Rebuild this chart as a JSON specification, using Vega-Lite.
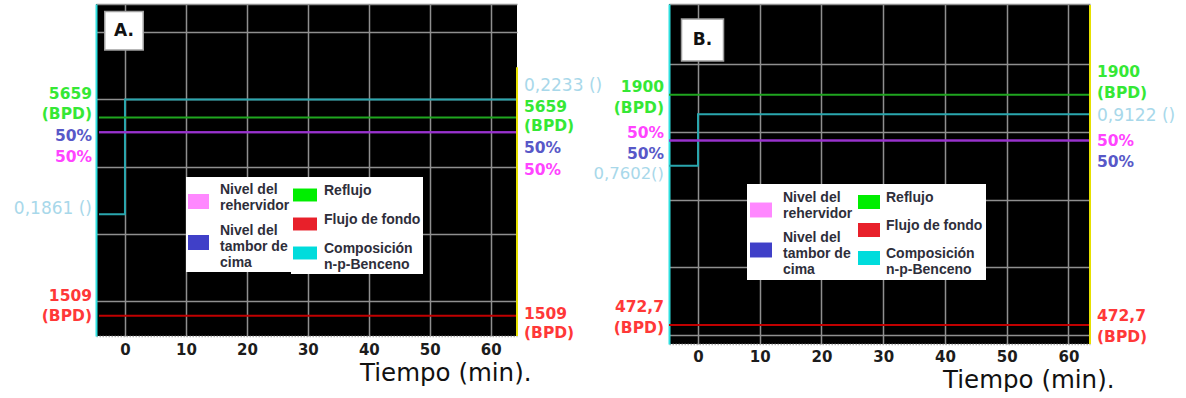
{
  "$schema": "https://vega.github.io/schema/vega-lite/v6.json",
  "padding": {"left": 13, "top": 4, "right": 0, "bottom": 0},
  "background": "white",
  "spacing": 152,
  "bounds": "flush",
  "config": {"view": {"fill": "black", "stroke": null}},
  "datasets": {
    "linesA": [
      {"series": "Composición n-p-Benceno", "t": -4.26, "v": 22.9},
      {"series": "Composición n-p-Benceno", "t": 0, "v": 40.0},
      {"series": "Composición n-p-Benceno", "t": 64.3, "v": 40.0},
      {"series": "Reflujo", "t": -4.26, "v": 37.3},
      {"series": "Reflujo", "t": 64.3, "v": 37.3},
      {"series": "Nivel del tambor de cima", "t": -4.26, "v": 35.1},
      {"series": "Nivel del tambor de cima", "t": 64.3, "v": 35.1},
      {"series": "Nivel del rehervidor", "t": -4.26, "v": 35.1},
      {"series": "Nivel del rehervidor", "t": 64.3, "v": 35.1},
      {"series": "Flujo de fondo", "t": -4.26, "v": 7.8},
      {"series": "Flujo de fondo", "t": 64.3, "v": 7.8}
    ],
    "linesB": [
      {"series": "Composición n-p-Benceno", "t": -4.7, "v": 35.0},
      {"series": "Composición n-p-Benceno", "t": 0, "v": 42.6},
      {"series": "Composición n-p-Benceno", "t": 63.5, "v": 42.6},
      {"series": "Reflujo", "t": -4.7, "v": 45.47},
      {"series": "Reflujo", "t": 63.5, "v": 45.47},
      {"series": "Nivel del tambor de cima", "t": -4.7, "v": 38.7},
      {"series": "Nivel del tambor de cima", "t": 63.5, "v": 38.7},
      {"series": "Nivel del rehervidor", "t": -4.7, "v": 38.7},
      {"series": "Nivel del rehervidor", "t": 63.5, "v": 38.7},
      {"series": "Flujo de fondo", "t": -4.7, "v": 11.48},
      {"series": "Flujo de fondo", "t": 63.5, "v": 11.48}
    ],
    "labelsA": [
      {"side": "L", "series": "Reflujo", "v": 40.78, "text": "5659\n(BPD)"},
      {"side": "L", "series": "Nivel del tambor de cima", "v": 34.54, "text": "50%"},
      {"side": "L", "series": "Nivel del rehervidor", "v": 31.41, "text": "50%"},
      {"side": "L", "series": "Composición n-p-Benceno", "v": 23.68, "text": "0,1861 ()"},
      {"side": "L", "series": "Flujo de fondo", "v": 10.74, "text": "1509\n(BPD)"},
      {"side": "R", "series": "Composición n-p-Benceno", "v": 41.97, "text": "0,2233 ()"},
      {"side": "R", "series": "Reflujo", "v": 38.85, "text": "5659\n(BPD)"},
      {"side": "R", "series": "Nivel del tambor de cima", "v": 32.75, "text": "50%"},
      {"side": "R", "series": "Nivel del rehervidor", "v": 29.48, "text": "50%"},
      {"side": "R", "series": "Flujo de fondo", "v": 8.07, "text": "1509\n(BPD)"}
    ],
    "labelsB": [
      {"side": "L", "series": "Reflujo", "v": 46.6, "text": "1900\n(BPD)"},
      {"side": "L", "series": "Nivel del rehervidor", "v": 39.82, "text": "50%"},
      {"side": "L", "series": "Nivel del tambor de cima", "v": 36.72, "text": "50%"},
      {"side": "L", "series": "Composición n-p-Benceno", "v": 33.76, "text": "0,7602()"},
      {"side": "L", "series": "Flujo de fondo", "v": 14.13, "text": "472,7\n(BPD)"},
      {"side": "R", "series": "Reflujo", "v": 48.82, "text": "1900\n(BPD)"},
      {"side": "R", "series": "Composición n-p-Benceno", "v": 42.32, "text": "0,9122 ()"},
      {"side": "R", "series": "Nivel del rehervidor", "v": 38.63, "text": "50%"},
      {"side": "R", "series": "Nivel del tambor de cima", "v": 35.54, "text": "50%"},
      {"side": "R", "series": "Flujo de fondo", "v": 12.8, "text": "472,7\n(BPD)"}
    ],
    "legendItems": [
      {"col": 1, "item": "Nivel del|rehervidor"},
      {"col": 1, "item": "Nivel del|tambor de|cima"},
      {"col": 2, "item": "Reflujo"},
      {"col": 2, "item": "Flujo de fondo"},
      {"col": 2, "item": "Composición|n-p-Benceno"}
    ],
    "panelTags": [
      {"panel": "A", "tag": "A.", "t": -0.16, "v": 50.22},
      {"panel": "B", "tag": "B.", "t": 0.73, "v": 53.54}
    ]
  },
  "hconcat": [
    {
      "width": 421,
      "height": 332,
      "view": {"fill": "black", "stroke": null},
      "resolve": {"scale": {"color": "independent"}, "legend": {"color": "independent"}},
      "layer": [
        {
          "data": {"name": "linesA"},
          "mark": {"type": "line", "interpolate": "step-after", "strokeWidth": 2},
          "encoding": {
            "x": {"field": "t", "type": "quantitative", "scale": {"domain": [-4.75, 64.3], "nice": false, "zero": false},
              "axis": {"values": [0, 10, 20, 30, 40, 50, 60], "grid": true, "gridColor": "#8f8f8f", "gridWidth": 1.5, "domain": true, "domainColor": "#b0b0b0", "domainDash": [1.5, 1.5], "domainWidth": 1.5, "ticks": false, "labelFlush": false, "labelOverlap": false, "labelFont": "DejaVu Sans", "labelFontSize": 15, "labelFontWeight": "bold", "labelColor": "#1c1c1c", "labelPadding": 6, "title": "Tiempo (min).", "titleFont": "DejaVu Sans", "titleFontSize": 24.5, "titleFontWeight": "normal", "titleColor": "#111111", "titleX": 435, "titleY": 37, "titleAlign": "right", "titleBaseline": "middle"}},
            "y": {"field": "v", "type": "quantitative", "scale": {"domain": [4.8, 54.2], "nice": false, "zero": false},
              "axis": {"values": [10, 20, 30, 40, 50, 54.2], "grid": true, "gridColor": "#8f8f8f", "gridWidth": 1.5, "labels": false, "ticks": false, "domain": true, "domainColor": "#2ee0e0", "domainWidth": 2, "title": null}},
            "color": {"field": "series", "type": "nominal", "legend": null,
              "scale": {"domain": ["Nivel del tambor de cima", "Nivel del rehervidor", "Reflujo", "Flujo de fondo", "Composición n-p-Benceno"], "range": ["#8a2fc8", "#9932cc", "#1fa51f", "#c00000", "#2aa6ae"]}}
          }
        },
        {
          "data": {"name": "labelsA"},
          "transform": [{"filter": "datum.side == 'L' && datum.series != 'Composición n-p-Benceno'"}],
          "mark": {"type": "text", "align": "right", "baseline": "middle", "dx": -4, "font": "DejaVu Sans", "fontSize": 15.5, "fontWeight": "bold", "lineBreak": "\n", "lineHeight": 20},
          "encoding": {
            "x": {"datum": -4.75, "type": "quantitative", "scale": {"domain": [-4.75, 64.3], "nice": false, "zero": false}},
            "y": {"field": "v", "type": "quantitative", "scale": {"domain": [4.8, 54.2], "nice": false, "zero": false}},
            "text": {"field": "text"},
            "color": {"field": "series", "type": "nominal", "legend": null,
              "scale": {"domain": ["Nivel del rehervidor", "Nivel del tambor de cima", "Reflujo", "Flujo de fondo"], "range": ["#ff44ff", "#5858c8", "#35e835", "#ff3838"]}}
          }
        },
        {
          "data": {"name": "labelsA"},
          "transform": [{"filter": "datum.side == 'R' && datum.series != 'Composición n-p-Benceno'"}],
          "mark": {"type": "text", "align": "left", "baseline": "middle", "dx": 7, "font": "DejaVu Sans", "fontSize": 15.5, "fontWeight": "bold", "lineBreak": "\n", "lineHeight": 19},
          "encoding": {
            "x": {"datum": 64.3, "type": "quantitative", "scale": {"domain": [-4.75, 64.3], "nice": false, "zero": false}},
            "y": {"field": "v", "type": "quantitative", "scale": {"domain": [4.8, 54.2], "nice": false, "zero": false}},
            "text": {"field": "text"},
            "color": {"field": "series", "type": "nominal", "legend": null,
              "scale": {"domain": ["Nivel del rehervidor", "Nivel del tambor de cima", "Reflujo", "Flujo de fondo"], "range": ["#ff44ff", "#5858c8", "#35e835", "#ff3838"]}}
          }
        },
        {
          "data": {"name": "labelsA"},
          "transform": [{"filter": "datum.side == 'L' && datum.series == 'Composición n-p-Benceno'"}],
          "mark": {"type": "text", "align": "right", "baseline": "middle", "dx": -4, "font": "DejaVu Sans", "fontSize": 17, "color": "#a8d8ea"},
          "encoding": {
            "x": {"datum": -4.75, "type": "quantitative", "scale": {"domain": [-4.75, 64.3], "nice": false, "zero": false}},
            "y": {"field": "v", "type": "quantitative", "scale": {"domain": [4.8, 54.2], "nice": false, "zero": false}},
            "text": {"field": "text"}
          }
        },
        {
          "data": {"name": "labelsA"},
          "transform": [{"filter": "datum.side == 'R' && datum.series == 'Composición n-p-Benceno'"}],
          "mark": {"type": "text", "align": "left", "baseline": "middle", "dx": 7, "font": "DejaVu Sans", "fontSize": 17, "color": "#a8d8ea"},
          "encoding": {
            "x": {"datum": 64.3, "type": "quantitative", "scale": {"domain": [-4.75, 64.3], "nice": false, "zero": false}},
            "y": {"field": "v", "type": "quantitative", "scale": {"domain": [4.8, 54.2], "nice": false, "zero": false}},
            "text": {"field": "text"}
          }
        },
        {
          "data": {"name": "legendItems"},
          "transform": [{"filter": "datum.col == 1"}],
          "mark": {"type": "square", "opacity": 0},
          "encoding": {
            "color": {"field": "item", "type": "nominal",
              "scale": {"domain": ["Nivel del|rehervidor", "Nivel del|tambor de|cima"], "range": ["#ff88ff", "#4040c8"]},
              "legend": {"title": null, "orient": "none", "legendX": 90, "legendY": 173, "direction": "vertical", "fillColor": "white", "strokeColor": null, "padding": 2, "rowPadding": 7, "symbolType": "M-1,0.429L1,0.429L1,1.857L-1,1.857Z", "symbolSize": 441, "symbolStrokeWidth": 0, "symbolOpacity": 1, "labelFont": "Liberation Sans", "labelFontSize": 14, "labelFontWeight": "bold", "labelColor": "#2e2e3a", "labelOffset": 11, "labelLimit": 200, "labelExpr": "split(datum.label, '|')"}}
          }
        },
        {
          "data": {"name": "legendItems"},
          "transform": [{"filter": "datum.col == 2"}],
          "mark": {"type": "square", "opacity": 0},
          "encoding": {
            "color": {"field": "item", "type": "nominal",
              "scale": {"domain": ["Reflujo", "Flujo de fondo", "Composición|n-p-Benceno"], "range": ["#00ee00", "#e8202a", "#00dcdc"]},
              "legend": {"title": null, "orient": "none", "legendX": 195, "legendY": 173, "direction": "vertical", "fillColor": "white", "strokeColor": null, "padding": 2, "rowPadding": 6, "symbolType": "M-1,-0.207L1,-0.207L1,0.873L-1,0.873Z", "symbolSize": 576, "symbolStrokeWidth": 0, "symbolOpacity": 1, "labelFont": "Liberation Sans", "labelFontSize": 14, "labelFontWeight": "bold", "labelColor": "#2e2e3a", "labelOffset": 7, "labelLimit": 200, "labelExpr": "split(datum.label, '|')"}}
          }
        },
        {
          "data": {"name": "panelTags"},
          "transform": [{"filter": "datum.panel == 'A'"}],
          "mark": {"type": "square", "size": 1480, "filled": true, "color": "white", "stroke": "#a0a0a0", "strokeWidth": 1.5, "opacity": 1},
          "encoding": {
            "x": {"field": "t", "type": "quantitative", "scale": {"domain": [-4.75, 64.3], "nice": false, "zero": false}},
            "y": {"field": "v", "type": "quantitative", "scale": {"domain": [4.8, 54.2], "nice": false, "zero": false}}
          }
        },
        {
          "data": {"name": "panelTags"},
          "transform": [{"filter": "datum.panel == 'A'"}],
          "mark": {"type": "text", "align": "center", "baseline": "middle", "font": "DejaVu Sans", "fontSize": 17, "fontWeight": "bold", "color": "#111111"},
          "encoding": {
            "x": {"field": "t", "type": "quantitative", "scale": {"domain": [-4.75, 64.3], "nice": false, "zero": false}},
            "y": {"field": "v", "type": "quantitative", "scale": {"domain": [4.8, 54.2], "nice": false, "zero": false}},
            "text": {"field": "tag"}
          }
        },
        {
          "data": {"values": [{}]},
          "mark": {"type": "rule", "color": "#e6e000", "strokeWidth": 2},
          "encoding": {
            "x": {"datum": 64.3, "type": "quantitative", "scale": {"domain": [-4.75, 64.3], "nice": false, "zero": false}},
            "y": {"datum": 44.8, "type": "quantitative", "scale": {"domain": [4.8, 54.2], "nice": false, "zero": false}},
            "y2": {"datum": 4.8}
          }
        }
      ]
    },
    {
      "width": 421,
      "height": 340,
      "view": {"fill": "black", "stroke": null},
      "resolve": {"scale": {"color": "independent"}, "legend": {"color": "independent"}},
      "layer": [
        {
          "data": {"name": "linesB"},
          "mark": {"type": "line", "interpolate": "step-after", "strokeWidth": 2},
          "encoding": {
            "x": {"field": "t", "type": "quantitative", "scale": {"domain": [-4.7, 63.5], "nice": false, "zero": false},
              "axis": {"values": [0, 10, 20, 30, 40, 50, 60], "grid": true, "gridColor": "#8f8f8f", "gridWidth": 1.5, "domain": true, "domainColor": "#b0b0b0", "domainDash": [1.5, 1.5], "domainWidth": 1.5, "ticks": false, "labelFlush": false, "labelOverlap": false, "labelFont": "DejaVu Sans", "labelFontSize": 15, "labelFontWeight": "bold", "labelColor": "#1c1c1c", "labelPadding": 5, "title": "Tiempo (min).", "titleFont": "DejaVu Sans", "titleFontSize": 24.5, "titleFontWeight": "normal", "titleColor": "#111111", "titleX": 445, "titleY": 36, "titleAlign": "right", "titleBaseline": "middle"}},
            "y": {"field": "v", "type": "quantitative", "scale": {"domain": [8.67, 58.86], "nice": false, "zero": false},
              "axis": {"values": [10, 20, 30, 40, 50, 58.86], "grid": true, "gridColor": "#8f8f8f", "gridWidth": 1.5, "labels": false, "ticks": false, "domain": true, "domainColor": "#2ee0e0", "domainWidth": 2, "title": null}},
            "color": {"field": "series", "type": "nominal", "legend": null,
              "scale": {"domain": ["Nivel del tambor de cima", "Nivel del rehervidor", "Reflujo", "Flujo de fondo", "Composición n-p-Benceno"], "range": ["#8a2fc8", "#9932cc", "#1fa51f", "#c00000", "#2aa6ae"]}}
          }
        },
        {
          "data": {"name": "labelsB"},
          "transform": [{"filter": "datum.side == 'L' && datum.series != 'Composición n-p-Benceno'"}],
          "mark": {"type": "text", "align": "right", "baseline": "middle", "dx": -5, "font": "DejaVu Sans", "fontSize": 15.5, "fontWeight": "bold", "lineBreak": "\n", "lineHeight": 21},
          "encoding": {
            "x": {"datum": -4.7, "type": "quantitative", "scale": {"domain": [-4.7, 63.5], "nice": false, "zero": false}},
            "y": {"field": "v", "type": "quantitative", "scale": {"domain": [8.67, 58.86], "nice": false, "zero": false}},
            "text": {"field": "text"},
            "color": {"field": "series", "type": "nominal", "legend": null,
              "scale": {"domain": ["Nivel del rehervidor", "Nivel del tambor de cima", "Reflujo", "Flujo de fondo"], "range": ["#ff44ff", "#5858c8", "#35e835", "#ff3838"]}}
          }
        },
        {
          "data": {"name": "labelsB"},
          "transform": [{"filter": "datum.side == 'R' && datum.series != 'Composición n-p-Benceno'"}],
          "mark": {"type": "text", "align": "left", "baseline": "middle", "dx": 7, "font": "DejaVu Sans", "fontSize": 15.5, "fontWeight": "bold", "lineBreak": "\n", "lineHeight": 21},
          "encoding": {
            "x": {"datum": 63.5, "type": "quantitative", "scale": {"domain": [-4.7, 63.5], "nice": false, "zero": false}},
            "y": {"field": "v", "type": "quantitative", "scale": {"domain": [8.67, 58.86], "nice": false, "zero": false}},
            "text": {"field": "text"},
            "color": {"field": "series", "type": "nominal", "legend": null,
              "scale": {"domain": ["Nivel del rehervidor", "Nivel del tambor de cima", "Reflujo", "Flujo de fondo"], "range": ["#ff44ff", "#5858c8", "#35e835", "#ff3838"]}}
          }
        },
        {
          "data": {"name": "labelsB"},
          "transform": [{"filter": "datum.side == 'L' && datum.series == 'Composición n-p-Benceno'"}],
          "mark": {"type": "text", "align": "right", "baseline": "middle", "dx": -5, "font": "DejaVu Sans", "fontSize": 16.5, "color": "#a8d8ea"},
          "encoding": {
            "x": {"datum": -4.7, "type": "quantitative", "scale": {"domain": [-4.7, 63.5], "nice": false, "zero": false}},
            "y": {"field": "v", "type": "quantitative", "scale": {"domain": [8.67, 58.86], "nice": false, "zero": false}},
            "text": {"field": "text"}
          }
        },
        {
          "data": {"name": "labelsB"},
          "transform": [{"filter": "datum.side == 'R' && datum.series == 'Composición n-p-Benceno'"}],
          "mark": {"type": "text", "align": "left", "baseline": "middle", "dx": 7, "font": "DejaVu Sans", "fontSize": 17, "color": "#a8d8ea"},
          "encoding": {
            "x": {"datum": 63.5, "type": "quantitative", "scale": {"domain": [-4.7, 63.5], "nice": false, "zero": false}},
            "y": {"field": "v", "type": "quantitative", "scale": {"domain": [8.67, 58.86], "nice": false, "zero": false}},
            "text": {"field": "text"}
          }
        },
        {
          "data": {"name": "legendItems"},
          "transform": [{"filter": "datum.col == 1"}],
          "mark": {"type": "square", "opacity": 0},
          "encoding": {
            "color": {"field": "item", "type": "nominal",
              "scale": {"domain": ["Nivel del|rehervidor", "Nivel del|tambor de|cima"], "range": ["#ff88ff", "#4040c8"]},
              "legend": {"title": null, "orient": "none", "legendX": 78, "legendY": 180, "direction": "vertical", "fillColor": "white", "strokeColor": null, "padding": 3, "rowPadding": 6, "symbolType": "M-1,0.411L1,0.411L1,1.771L-1,1.771Z", "symbolSize": 484, "symbolStrokeWidth": 0, "symbolOpacity": 1, "labelFont": "Liberation Sans", "labelFontSize": 14, "labelFontWeight": "bold", "labelColor": "#2e2e3a", "labelOffset": 11, "labelLimit": 200, "labelExpr": "split(datum.label, '|')"}}
          }
        },
        {
          "data": {"name": "legendItems"},
          "transform": [{"filter": "datum.col == 2"}],
          "mark": {"type": "square", "opacity": 0},
          "encoding": {
            "color": {"field": "item", "type": "nominal",
              "scale": {"domain": ["Reflujo", "Flujo de fondo", "Composición|n-p-Benceno"], "range": ["#00ee00", "#e8202a", "#00dcdc"]},
              "legend": {"title": null, "orient": "none", "legendX": 186, "legendY": 180, "direction": "vertical", "fillColor": "white", "strokeColor": null, "padding": 3, "rowPadding": 6, "symbolType": "M-1,-0.272L1,-0.272L1,1L-1,1Z", "symbolSize": 484, "symbolStrokeWidth": 0, "symbolOpacity": 1, "labelFont": "Liberation Sans", "labelFontSize": 14, "labelFontWeight": "bold", "labelColor": "#2e2e3a", "labelOffset": 6, "labelLimit": 200, "labelExpr": "split(datum.label, '|')"}}
          }
        },
        {
          "data": {"name": "panelTags"},
          "transform": [{"filter": "datum.panel == 'B'"}],
          "mark": {"type": "square", "size": 1764, "filled": true, "color": "white", "stroke": "#a0a0a0", "strokeWidth": 1.5, "opacity": 1},
          "encoding": {
            "x": {"field": "t", "type": "quantitative", "scale": {"domain": [-4.7, 63.5], "nice": false, "zero": false}},
            "y": {"field": "v", "type": "quantitative", "scale": {"domain": [8.67, 58.86], "nice": false, "zero": false}}
          }
        },
        {
          "data": {"name": "panelTags"},
          "transform": [{"filter": "datum.panel == 'B'"}],
          "mark": {"type": "text", "align": "center", "baseline": "middle", "font": "DejaVu Sans", "fontSize": 17, "fontWeight": "bold", "color": "#111111"},
          "encoding": {
            "x": {"field": "t", "type": "quantitative", "scale": {"domain": [-4.7, 63.5], "nice": false, "zero": false}},
            "y": {"field": "v", "type": "quantitative", "scale": {"domain": [8.67, 58.86], "nice": false, "zero": false}},
            "text": {"field": "tag"}
          }
        },
        {
          "data": {"values": [{}]},
          "mark": {"type": "rule", "color": "#e6e000", "strokeWidth": 2},
          "encoding": {
            "x": {"datum": 63.5, "type": "quantitative", "scale": {"domain": [-4.7, 63.5], "nice": false, "zero": false}},
            "y": {"datum": 58.7, "type": "quantitative", "scale": {"domain": [8.67, 58.86], "nice": false, "zero": false}},
            "y2": {"datum": 8.67}
          }
        }
      ]
    }
  ]
}
